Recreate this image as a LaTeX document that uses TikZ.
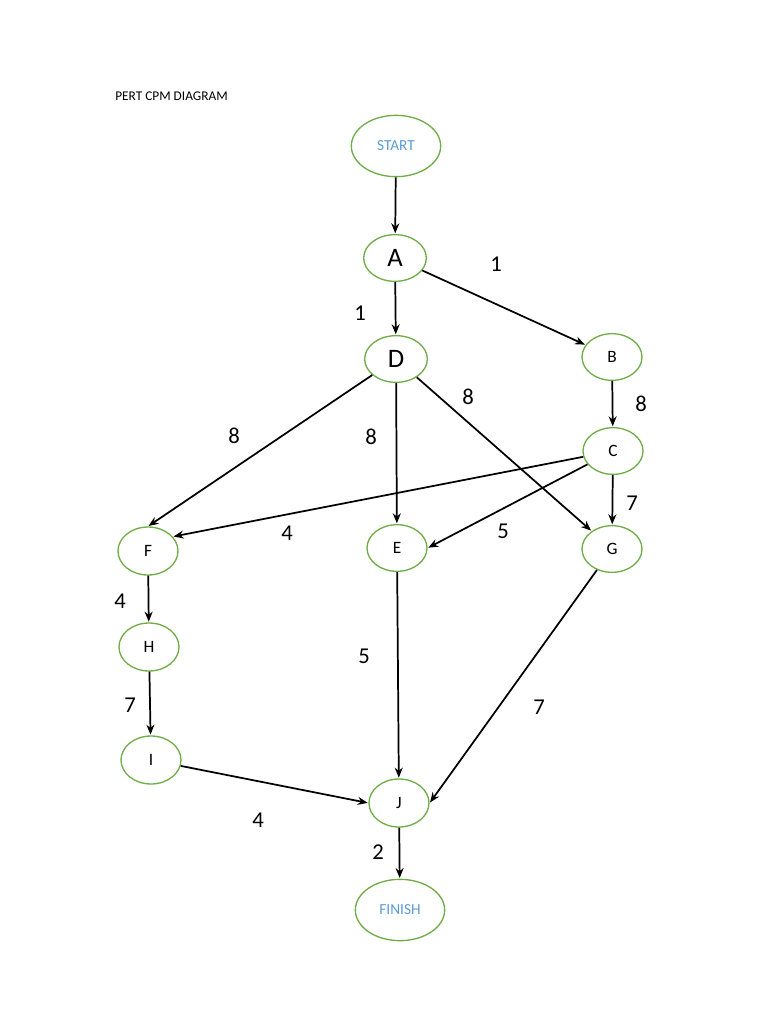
\documentclass[tikz,border=0pt]{standalone}
\usepackage{fontspec}
\setmainfont{Carlito}
\usetikzlibrary{arrows.meta,shapes.geometric}
\definecolor{ogreen}{HTML}{70AD47}
\definecolor{oblue}{HTML}{5B9BD5}
\begin{document}
\begin{tikzpicture}[x=0.75pt,y=-0.75pt,
  ev/.style={ellipse,draw=ogreen,line width=1pt,minimum width=45pt,minimum height=35pt,inner sep=0pt,font=\fontsize{13}{13}\selectfont},
  bigev/.style={ev,font=\fontsize{20}{20}\selectfont},
  term/.style={ev,minimum width=67pt,minimum height=46pt,text=oblue,font=\fontsize{11.5}{12}\selectfont},
  arr/.style={-{Stealth[length=7.5pt,width=6pt]},line width=1.3pt,shorten >=0.5pt},
  lab/.style={font=\fontsize{17}{17}\selectfont,inner sep=0pt}]
\useasboundingbox (0,0) rectangle (768,1024);
\node[anchor=west,font=\fontsize{10}{11}\selectfont,inner sep=0pt] (title) at (115,96) {PERT CPM DIAGRAM};
\node[term] (start) at (396,146) {START};
\node[bigev,minimum width=47pt] (A) at (395,258) {A};
\node[bigev,minimum width=47pt] (D) at (396,359) {D};
\node[ev] (B) at (612,357) {B};
\node[ev] (C) at (613,451) {C};
\node[ev,minimum height=36pt] (F) at (148,551) {F};
\node[ev] (E) at (397,548) {E};
\node[ev] (G) at (612,549) {G};
\node[ev,minimum height=36pt] (H) at (149,647) {H};
\node[ev,minimum height=36pt] (I) at (151,760) {I};
\node[ev,minimum height=36pt] (J) at (399,803) {J};
\node[term] (finish) at (400,910) {FINISH};
\draw[arr] (start) -- (A);
\draw[arr] (A) -- (D);
\draw[arr] (A) -- (B);
\draw[arr] (B) -- (C);
\draw[arr] (D) -- (F.north);
\draw[arr] (D) -- (E);
\draw[arr] (D) -- (G);
\draw[arr] (C) -- (F.30);
\draw[arr] (C) -- (E.east);
\draw[arr] (C) -- (G);
\draw[arr] (F) -- (H);
\draw[arr] (H) -- (I);
\draw[arr] (E) -- (J);
\draw[arr] (G) -- (J.east);
\draw[arr] (I) -- (J.west);
\draw[arr] (J) -- (finish);
\node[lab] (l1) at (360,313) {1};
\node[lab] (l2) at (496,264) {1};
\node[lab] (l3) at (641,404) {8};
\node[lab] (l4) at (234,436) {8};
\node[lab] (l5) at (371,437) {8};
\node[lab] (l6) at (468,397) {8};
\node[lab] (l7) at (287,533) {4};
\node[lab] (l8) at (503,531) {5};
\node[lab] (l9) at (632,503) {7};
\node[lab] (l10) at (120,601) {4};
\node[lab] (l11) at (130,705) {7};
\node[lab] (l12) at (364,656) {5};
\node[lab] (l13) at (539,707) {7};
\node[lab] (l14) at (258,820) {4};
\node[lab] (l15) at (378,852) {2};
\end{tikzpicture}
\end{document}
